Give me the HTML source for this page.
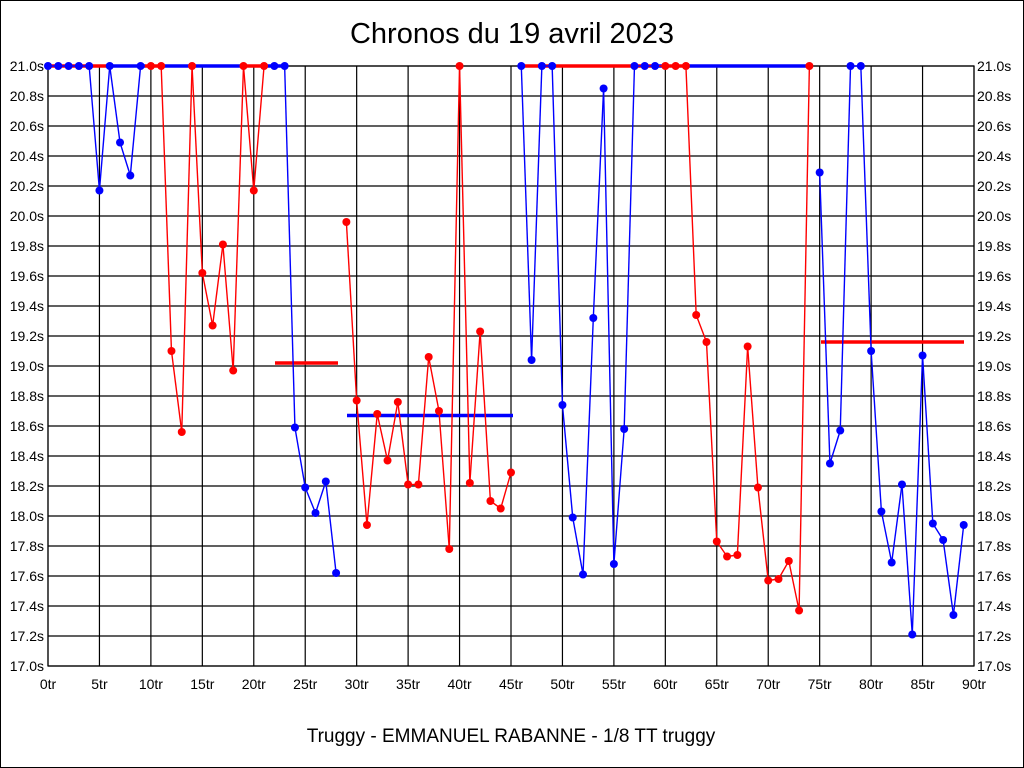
<!DOCTYPE html>
<html><head><meta charset="utf-8"><style>
html,body{margin:0;padding:0;background:#fff;}
svg{display:block;font-family:"Liberation Sans",sans-serif;}
</style></head><body>
<svg id="c" width="1024" height="768" xmlns="http://www.w3.org/2000/svg">
<rect x="0.5" y="0.5" width="1023" height="767" fill="#fff" stroke="#000"/>
<text x="512" y="43" font-size="29" text-anchor="middle">Chronos du 19 avril 2023</text>
<text x="511" y="742" font-size="19" text-anchor="middle">Truggy - EMMANUEL RABANNE - 1/8 TT truggy</text>
<g id="g"></g>
</svg>
<script>
var g=document.getElementById('g'),s='';
function X(i){return 48+i*926/90;}
function Y(v){return 66+(21-v)*150;}
for(var k=0;k<=20;k++){var y=66+k*30;s+='<line x1="48" x2="974" y1="'+y+'" y2="'+y+'" stroke="#000" stroke-width="1.2"/>';
var lab=(21-k*0.2).toFixed(1)+'s';
s+='<text x="44" y="'+(y+5)+'" font-size="14" text-anchor="end">'+lab+'</text>';
s+='<text x="977" y="'+(y+5)+'" font-size="14">'+lab+'</text>';}
for(var k=0;k<=18;k++){var x=X(k*5);s+='<line x1="'+x+'" x2="'+x+'" y1="66" y2="666" stroke="#000" stroke-width="1.2"/>';
s+='<text x="'+x+'" y="689" font-size="14" text-anchor="middle">'+(k*5)+'tr</text>';}
s+='<rect x="48" y="66" width="926" height="600" fill="none" stroke="#000" stroke-width="1.2"/>';
var R='#f00',B='#00f';
var runs=[
[[B,21],[B,21],[B,21],[B,21],[B,21],[B,20.17],[B,21],[B,20.49],[B,20.27],[B,21],[R,21],[R,21],[R,19.10],[R,18.56],[R,21],[R,19.62],[R,19.27],[R,19.81],[R,18.97],[R,21],[R,20.17],[R,21],[B,21],[B,21],[B,18.59],[B,18.19],[B,18.02],[B,18.23],[B,17.62]],
[[R,19.96],[R,18.77],[R,17.94],[R,18.68],[R,18.37],[R,18.76],[R,18.21],[R,18.21],[R,19.06],[R,18.70],[R,17.78],[R,21],[R,18.22],[R,19.23],[R,18.10],[R,18.05],[R,18.29]],
[[B,21],[B,19.04],[B,21],[B,21],[B,18.74],[B,17.99],[B,17.61],[B,19.32],[B,20.85],[B,17.68],[B,18.58],[B,21],[B,21],[B,21],[R,21],[R,21],[R,21],[R,19.34],[R,19.16],[R,17.83],[R,17.73],[R,17.74],[R,19.13],[R,18.19],[R,17.57],[R,17.58],[R,17.70],[R,17.37],[R,21]],
[[B,20.29],[B,18.35],[B,18.57],[B,21],[B,21],[B,19.10],[B,18.03],[B,17.69],[B,18.21],[B,17.21],[B,19.07],[B,17.95],[B,17.84],[B,17.34],[B,17.94]]];
function th(x1,x2,v,c){s+='<line x1="'+x1+'" x2="'+x2+'" y1="'+Y(v)+'" y2="'+Y(v)+'" stroke="'+c+'" stroke-width="3.5"/>';}
th(48,110,21,R);th(110,145,21,B);th(145,160,21,R);th(160,242,21,B);th(242,266,21,R);th(266,288,21,B);
th(275,338,19.02,R);th(347,513,18.67,B);
th(522,657,21,R);th(657,666,21,B);th(666,688,21,R);th(688,810,21,B);
th(821,964,19.16,R);
var idx=0,dots='';
runs.forEach(function(r){
 for(var j=0;j<r.length;j++){var i=idx+j;
  if(j>0)s+='<line x1="'+X(i-1)+'" y1="'+Y(r[j-1][1])+'" x2="'+X(i)+'" y2="'+Y(r[j][1])+'" stroke="'+r[j][0]+'" stroke-width="1.4"/>';
  dots+='<circle cx="'+X(i)+'" cy="'+Y(r[j][1])+'" r="4" fill="'+r[j][0]+'"/>';}
 idx+=r.length;});
s+=dots;
g.innerHTML=s;
</script>
</body></html>
